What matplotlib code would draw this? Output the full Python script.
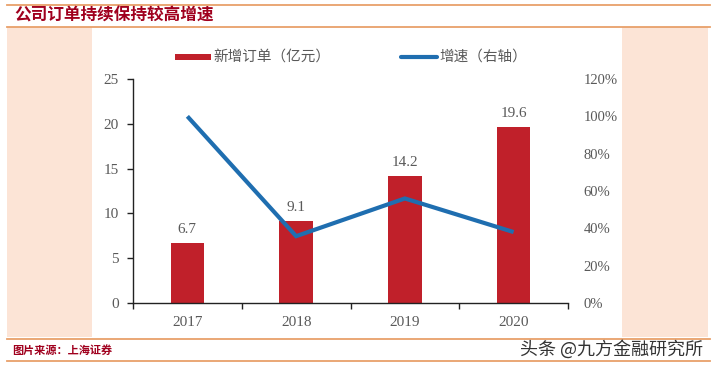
import matplotlib
matplotlib.use("Agg")
import matplotlib.pyplot as plt
from matplotlib.patches import Rectangle
from matplotlib.lines import Line2D
from matplotlib.ticker import FuncFormatter

plt.rcParams['font.family'] = ['Noto Sans CJK SC', 'DejaVu Sans']

years = ["2017", "2018", "2019", "2020"]
orders = [6.7, 9.1, 14.2, 19.6]
growth = [100.0, 35.8, 56.0, 38.0]
left_ticks = [0, 5, 10, 15, 20, 25]
right_ticks = [0, 20, 40, 60, 80, 100, 120]

title = "公司订单持续保持较高增速"
source = "图片来源：上海证券"
watermark = "头条 @九方金融研究所"
bar_label = "新增订单（亿元）"
line_label = "增速（右轴）"

W, H = 713, 367
fig = plt.figure(figsize=(W / 100, H / 100), dpi=100)
fig.patch.set_facecolor("white")

def fx(x):
    return x / W

def fy(y):
    return 1 - y / H

orange = "#E8A06A"
pink = "#FCE4D6"
darkred = "#A0001E"
gray = "#595959"

# background pink strips and white panel
fig.patches.append(Rectangle((fx(7), fy(337)), fx(708) - fx(7), fy(27) - fy(337),
                             transform=fig.transFigure, facecolor=pink, edgecolor="none", zorder=-20))
fig.patches.append(Rectangle((fx(92), fy(337)), fx(622) - fx(92), fy(27) - fy(337),
                             transform=fig.transFigure, facecolor="white", edgecolor="none", zorder=-10))
# orange rules
for y in [5, 26.5, 338.5, 360.5]:
    fig.add_artist(Line2D([fx(7), fx(710)], [fy(y), fy(y)], transform=fig.transFigure,
                          color=orange, linewidth=1.3))

fig.text(fx(14), fy(15.5), title, fontsize=12, fontweight="bold", color=darkred,
         ha="left", va="center")
fig.text(fx(12), fy(350), source, fontsize=8, fontweight="bold", color=darkred,
         ha="left", va="center")
fig.text(fx(703), fy(349), watermark, fontsize=13, color="#333333",
         ha="right", va="center")

# axes
ax = fig.add_axes([fx(133), fy(303), fx(568) - fx(133), fy(79) - fy(303)])
ax.set_facecolor("none")
x = list(range(len(years)))
bars = ax.bar(x, orders, width=0.31, color="#C0202A", zorder=2)
ax.set_xlim(-0.5, len(years) - 0.5)
ax.set_ylim(0, 25)
ax.set_yticks(left_ticks)
ax.set_xticks([i - 0.5 for i in range(len(years) + 1)], minor=False)
ax.set_xticklabels([])
ax.set_xticks(x, minor=True)
ax.set_xticklabels(years, minor=True)
ax.tick_params(axis="x", which="minor", length=0, pad=9, labelsize=11, labelcolor=gray)
ax.tick_params(axis="x", which="major", direction="out", length=4, width=1, color="#222222")
ax.tick_params(axis="y", direction="out", length=4, width=1, color="#222222",
               labelsize=11, labelcolor=gray, pad=6)
for lbl in ax.get_xticklabels(minor=True) + ax.get_yticklabels():
    lbl.set_fontfamily("Liberation Serif")
for s in ["top", "right"]:
    ax.spines[s].set_visible(False)
ax.spines["left"].set_color("#222222")
ax.spines["bottom"].set_color("#222222")
ax.spines["left"].set_linewidth(1.0)
ax.spines["bottom"].set_linewidth(1.0)

for xi, v in zip(x, orders):
    ax.text(xi, v + 0.8, f"{v:.1f}", ha="center", va="bottom", fontsize=11,
            color=gray, fontfamily="Liberation Serif")

ax2 = ax.twinx()
ax2.set_ylim(0, 120)
ax2.set_yticks(right_ticks)
ax2.yaxis.set_major_formatter(FuncFormatter(lambda v, p: f"{int(v)}%"))
ax2.plot(x, growth, color="#1F6EB0", linewidth=3.0, solid_capstyle="butt",
         solid_joinstyle="miter", zorder=3)
ax2.tick_params(axis="y", length=0, labelsize=10.5, labelcolor=gray, pad=11)
for lbl in ax2.get_yticklabels():
    lbl.set_fontfamily("Liberation Serif")
for s in ["top", "right", "left", "bottom"]:
    ax2.spines[s].set_visible(False)

# legend (manual, in figure coords)
fig.patches.append(Rectangle((fx(175), fy(60)), fx(211) - fx(175), fy(54) - fy(60),
                             transform=fig.transFigure, facecolor="#C0202A", edgecolor="none"))
fig.text(fx(213), fy(57), bar_label, fontsize=10.5, color=gray, ha="left", va="center")
fig.add_artist(Line2D([fx(401), fx(437)], [fy(57), fy(57)], transform=fig.transFigure,
                      color="#1F6EB0", linewidth=3.0, solid_capstyle="round"))
fig.text(fx(439), fy(57), line_label, fontsize=10.5, color=gray, ha="left", va="center")

fig.savefig("out.png", dpi=100)
